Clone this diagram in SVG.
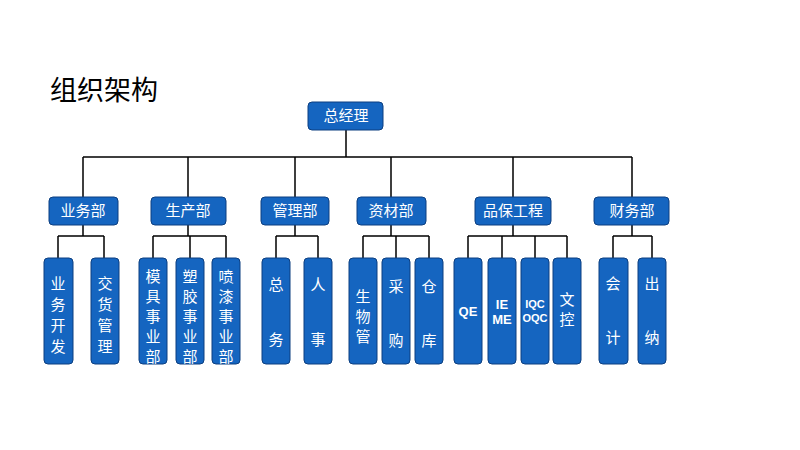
<svg xmlns="http://www.w3.org/2000/svg" width="800" height="450" viewBox="0 0 800 450">
<style>
.b{fill:#1565c0;stroke:#0d3f80;stroke-width:1}
.t{fill:#fff;font-family:"Noto Sans CJK SC","Liberation Sans",sans-serif;font-size:15px;text-anchor:middle}
.e{fill:#fff;font-family:"Liberation Sans",sans-serif;font-weight:bold;font-size:13px;text-anchor:middle}
.c{fill:none;stroke:#000;stroke-width:1.5}
</style>
<rect width="800" height="450" fill="#fff"/>
<text x="50" y="100" font-family="Noto Sans CJK SC,sans-serif" font-size="27" fill="#000">组织架构</text>
<g id="connectors" class="c">
<path d="M346 130V157M83 157H632M83 157V197M188 157V197M295 157V197M391 157V197M513 157V197M632 157V197"/>
<path d="M83 225V236M58 236H104M58 236V258M104 236V258"/>
<path d="M188 225V236M153 236H226M153 236V258M190 236V258M226 236V258"/>
<path d="M295 225V236M276 236H318M276 236V258M318 236V258"/>
<path d="M391 225V236M363 236H429M363 236V258M396 236V258M429 236V258"/>
<path d="M513 225V236M468 236H567M468 236V258M502 236V258M535 236V258M567 236V258"/>
<path d="M632 225V236M613 236H652M613 236V258M652 236V258"/>
</g>
<g id="n0"><rect class="b" x="308" y="102" width="75" height="28" rx="4"/><text class="t" x="346" y="121">总经理</text></g>
<g id="d1"><rect class="b" x="49" y="197" width="69" height="28" rx="4"/><text class="t" x="83" y="216">业务部</text></g>
<g id="d2"><rect class="b" x="151" y="197" width="75" height="28" rx="4"/><text class="t" x="188" y="216">生产部</text></g>
<g id="d3"><rect class="b" x="261" y="197" width="68" height="28" rx="4"/><text class="t" x="295" y="216">管理部</text></g>
<g id="d4"><rect class="b" x="357" y="197" width="69" height="28" rx="4"/><text class="t" x="391" y="216">资材部</text></g>
<g id="d5"><rect class="b" x="475" y="197" width="76" height="28" rx="4"/><text class="t" x="513" y="216">品保工程</text></g>
<g id="d6"><rect class="b" x="594" y="197" width="75" height="28" rx="4"/><text class="t" x="632" y="216">财务部</text></g>
<g id="c1"><rect class="b" x="44" y="258" width="29" height="106" rx="4"/><text class="t" x="58"><tspan x="58" y="289">业</tspan><tspan x="58" y="310">务</tspan><tspan x="58" y="331">开</tspan><tspan x="58" y="352">发</tspan></text></g>
<g id="c2"><rect class="b" x="91" y="258" width="28" height="106" rx="4"/><text class="t"><tspan x="105" y="289">交</tspan><tspan x="105" y="310">货</tspan><tspan x="105" y="331">管</tspan><tspan x="105" y="352">理</tspan></text></g>
<g id="c3"><rect class="b" x="139" y="258" width="28" height="106" rx="4"/><text class="t"><tspan x="153" y="282">模</tspan><tspan x="153" y="302">具</tspan><tspan x="153" y="322">事</tspan><tspan x="153" y="342">业</tspan><tspan x="153" y="362">部</tspan></text></g>
<g id="c4"><rect class="b" x="176" y="258" width="28" height="106" rx="4"/><text class="t"><tspan x="190" y="282">塑</tspan><tspan x="190" y="302">胶</tspan><tspan x="190" y="322">事</tspan><tspan x="190" y="342">业</tspan><tspan x="190" y="362">部</tspan></text></g>
<g id="c5"><rect class="b" x="212" y="258" width="28" height="106" rx="4"/><text class="t"><tspan x="226" y="282">喷</tspan><tspan x="226" y="302">漆</tspan><tspan x="226" y="322">事</tspan><tspan x="226" y="342">业</tspan><tspan x="226" y="362">部</tspan></text></g>
<g id="c6"><rect class="b" x="262" y="258" width="28" height="106" rx="4"/><text class="t"><tspan x="276" y="290">总</tspan><tspan x="276" y="345">务</tspan></text></g>
<g id="c7"><rect class="b" x="304" y="258" width="28" height="106" rx="4"/><text class="t"><tspan x="318" y="290">人</tspan><tspan x="318" y="345">事</tspan></text></g>
<g id="c8"><rect class="b" x="349" y="258" width="28" height="106" rx="4"/><text class="t"><tspan x="363" y="302">生</tspan><tspan x="363" y="322">物</tspan><tspan x="363" y="342">管</tspan></text></g>
<g id="c9"><rect class="b" x="382" y="258" width="28" height="106" rx="4"/><text class="t"><tspan x="396" y="292">采</tspan><tspan x="396" y="346">购</tspan></text></g>
<g id="c10"><rect class="b" x="415" y="258" width="28" height="106" rx="4"/><text class="t"><tspan x="429" y="292">仓</tspan><tspan x="429" y="346">库</tspan></text></g>
<g id="c11"><rect class="b" x="454" y="258" width="28" height="106" rx="4"/><text class="e" x="468" y="316">QE</text></g>
<g id="c12"><rect class="b" x="488" y="258" width="28" height="106" rx="4"/><text class="e"><tspan x="502" y="309">IE</tspan><tspan x="502" y="324">ME</tspan></text></g>
<g id="c13"><rect class="b" x="521" y="258" width="28" height="106" rx="4"/><text class="e" style="font-size:11px"><tspan x="535" y="308">IQC</tspan><tspan x="535" y="322">OQC</tspan></text></g>
<g id="c14"><rect class="b" x="553" y="258" width="28" height="106" rx="4"/><text class="t"><tspan x="567" y="305">文</tspan><tspan x="567" y="325">控</tspan></text></g>
<g id="c15"><rect class="b" x="599" y="258" width="29" height="106" rx="4"/><text class="t"><tspan x="613" y="289">会</tspan><tspan x="613" y="343">计</tspan></text></g>
<g id="c16"><rect class="b" x="638" y="258" width="28" height="106" rx="4"/><text class="t"><tspan x="652" y="289">出</tspan><tspan x="652" y="343">纳</tspan></text></g>
</svg>
